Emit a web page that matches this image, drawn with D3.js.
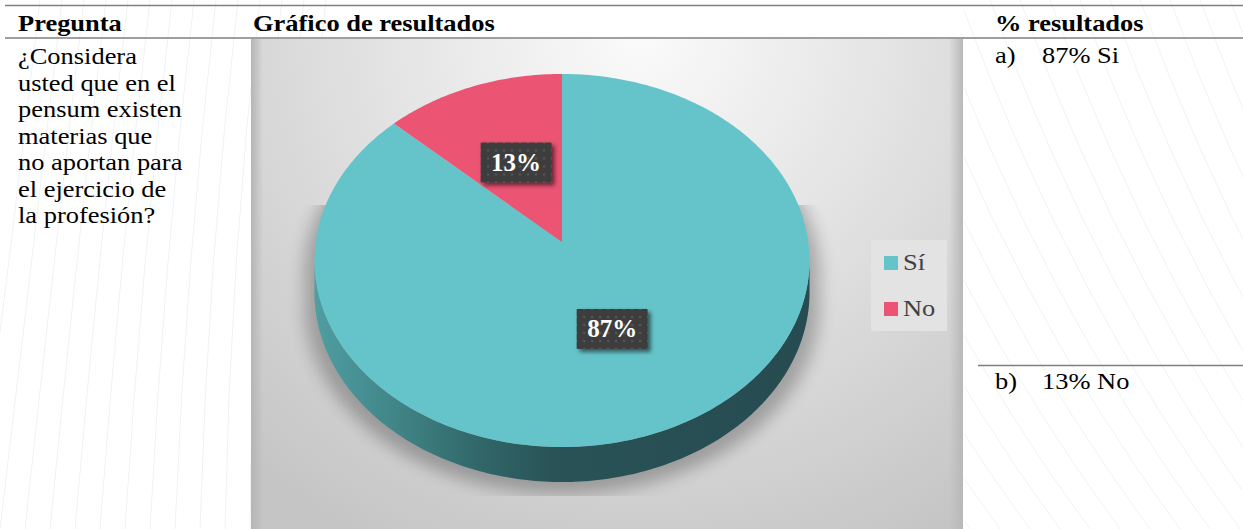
<!DOCTYPE html>
<html>
<head>
<meta charset="utf-8">
<script src="https://cdn.jsdelivr.net/npm/d3@7"></script>
<style>
  html, body { margin: 0; padding: 0; background: #fff; }
  svg { display: block; }
  text { font-family: "Liberation Serif", "Times New Roman", serif; }
</style>
</head>
<body>
<svg id="chart" width="1243" height="529"></svg>
<script>
// ---- data ----
const categories = ["Sí", "No"];
const values = [87, 13];
const sliceColors = ["#65c4c9", "#eb5473"];
const headers = ["Pregunta", "Gráfico de resultados", "% resultados"];
const questionLines = ["¿Considera", "usted que en el", "pensum existen", "materias que", "no aportan para", "el ejercicio de", "la profesión?"];
const resultLetters = ["a)", "b)"];
const resultTexts = ["87% Si", "13% No"];

// ---- setup ----
const svg = d3.select("#chart");
const W = 1243, H = 529;
const defs = svg.append("defs");
const SX = 1.15; // horizontal stretch of the document text

svg.append("rect").attr("width", W).attr("height", H).attr("fill", "#fff");

// faint watermark curves
const wm = svg.append("g").attr("fill", "none").attr("stroke", "#eef3f6").attr("stroke-width", 1);
d3.range(14).forEach(i => {
  const x0 = -20 + i * 22;
  wm.append("path").attr("d", `M${x0 + 60},0 Q${x0 + 30},260 ${x0 - 5 + i * 3},529`);
});
defs.append("clipPath").attr("id", "rightClip").append("rect").attr("x", 964).attr("y", 0).attr("width", 280).attr("height", H);
const wmR = svg.append("g").attr("clip-path", "url(#rightClip)").attr("fill", "none").attr("stroke", "#eef3f6").attr("stroke-width", 1);
d3.range(20).forEach(i => {
  const x0 = 660 + i * 30;
  wmR.append("path").attr("d", `M${x0},0 Q${x0 + 110},300 ${x0 + 280},529`);
});

// ---- chart panel ----
const panel = { x: 251, y: 39, w: 712, h: 490 };
const bg = defs.append("radialGradient").attr("id", "bgGrad").attr("gradientUnits", "userSpaceOnUse")
  .attr("cx", 640).attr("cy", 30).attr("r", 580);
bg.append("stop").attr("offset", 0).attr("stop-color", "#fbfbfb");
bg.append("stop").attr("offset", 0.45).attr("stop-color", "#e3e3e3");
bg.append("stop").attr("offset", 1).attr("stop-color", "#c5c5c5");
svg.append("rect").attr("x", panel.x).attr("y", panel.y).attr("width", panel.w).attr("height", panel.h).attr("fill", "url(#bgGrad)");
const lEdge = defs.append("linearGradient").attr("id", "lEdge");
lEdge.append("stop").attr("offset", 0).attr("stop-color", "#b5b5b5").attr("stop-opacity", 1);
lEdge.append("stop").attr("offset", 1).attr("stop-color", "#b5b5b5").attr("stop-opacity", 0);
svg.append("rect").attr("x", panel.x).attr("y", panel.y).attr("width", 12).attr("height", panel.h).attr("fill", "url(#lEdge)");
const rEdge = defs.append("linearGradient").attr("id", "rEdge");
rEdge.append("stop").attr("offset", 0).attr("stop-color", "#b8b8b8").attr("stop-opacity", 0);
rEdge.append("stop").attr("offset", 1).attr("stop-color", "#b8b8b8").attr("stop-opacity", 1);
svg.append("rect").attr("x", panel.x + panel.w - 14).attr("y", panel.y).attr("width", 14).attr("height", panel.h).attr("fill", "url(#rEdge)");

// ---- 3D pie projection ----
const cx = 562, cy = 242, RX = 246.3, RY = 184.7, K = 0.0992, DEPTH = 31.5;
function proj(theta, f) {
  const s = Math.sin(theta) * f, c = Math.cos(theta) * f;
  const w = 1 + K * c;
  return [cx + RX * s / w, cy - RY * c / w];
}
function projBottom(theta) {
  const p = proj(theta, 1);
  const w = 1 + K * Math.cos(theta);
  return [p[0], p[1] + DEPTH / w];
}
const line = d3.line();
const N = 180;
const thR = Math.acos(-K), thL = 2 * Math.PI - Math.acos(-K);
const topPts = d3.range(N + 1).map(i => thR + (thL - thR) * i / N);
const sidePts = topPts.map(t => proj(t, 1)).concat(topPts.slice().reverse().map(t => projBottom(t)));
const fullTop = d3.range(361).map(i => proj(i / 360 * 2 * Math.PI, 1));

// shadow
const shBlur = defs.append("filter").attr("id", "shBlur").attr("x", "-20%").attr("y", "-20%").attr("width", "140%").attr("height", "140%");
shBlur.append("feGaussianBlur").attr("stdDeviation", 8);
defs.append("clipPath").attr("id", "shClip").append("rect").attr("x", panel.x).attr("y", 205).attr("width", panel.w).attr("height", 291);
svg.append("g").attr("clip-path", "url(#shClip)")
  .append("g").attr("filter", "url(#shBlur)").attr("opacity", 0.26)
  .attr("transform", `translate(${cx},${cy + 12}) scale(1.04,1) translate(${-cx},${-cy})`)
  .call(g => {
    g.append("path").attr("d", line(fullTop) + "Z").attr("fill", "#000");
    g.append("path").attr("d", line(sidePts) + "Z").attr("fill", "#000");
  });

// side
const sideGrad = defs.append("linearGradient").attr("id", "sideGrad").attr("gradientUnits", "userSpaceOnUse")
  .attr("x1", 315).attr("x2", 810).attr("y1", 0).attr("y2", 0);
[[0, "#4f9ea2"], [0.18, "#3f8284"], [0.33, "#316769"], [0.48, "#295357"], [1, "#264b50"]]
  .forEach(([o, c]) => sideGrad.append("stop").attr("offset", o).attr("stop-color", c));
svg.append("path").attr("d", line(sidePts) + "Z").attr("fill", "url(#sideGrad)");

// slices
const color = d3.scaleOrdinal().domain(categories).range(sliceColors);
const pie = d3.pie().sort(null).startAngle(0).endAngle(2 * Math.PI);
const arcs = pie(values).map((a, i) => Object.assign(a, { cat: categories[i] }));
svg.append("g").selectAll("path").data(arcs).join("path")
  .attr("d", d => {
    const n = Math.max(4, Math.ceil((d.endAngle - d.startAngle) / (2 * Math.PI) * 360));
    const pts = [proj(0, 0)].concat(d3.range(n + 1).map(i => proj(d.startAngle + (d.endAngle - d.startAngle) * i / n, 1)));
    return line(pts) + "Z";
  })
  .attr("fill", d => color(d.cat));

// data labels
const pat = defs.append("pattern").attr("id", "dots").attr("patternUnits", "userSpaceOnUse").attr("width", 8).attr("height", 8);
pat.append("rect").attr("width", 8).attr("height", 8).attr("fill", "#3d3d3d");
pat.append("circle").attr("cx", 4).attr("cy", 4).attr("r", 1.3).attr("fill", "#555");
const ds = defs.append("filter").attr("id", "lblShadow").attr("x", "-30%").attr("y", "-30%").attr("width", "160%").attr("height", "160%");
ds.append("feDropShadow").attr("dx", 3).attr("dy", 3).attr("stdDeviation", 2).attr("flood-color", "#000").attr("flood-opacity", 0.55);
const total = d3.sum(values);
const pct = d3.format(".0%");
const lbl = svg.append("g").selectAll("g").data(arcs).join("g")
  .attr("transform", d => {
    const p = proj((d.startAngle + d.endAngle) / 2, 0.49);
    return `translate(${p[0]},${p[1]})`;
  });
lbl.append("rect").attr("x", -35.5).attr("y", -20).attr("width", 71).attr("height", 40)
  .attr("fill", "url(#dots)").attr("filter", "url(#lblShadow)");
lbl.append("text").attr("text-anchor", "middle").attr("y", 8.5)
  .attr("font-size", 25).attr("font-weight", "bold").attr("fill", "#fff")
  .text(d => pct(d.value / total));

// legend
const lg = svg.append("g");
lg.append("rect").attr("x", 871).attr("y", 240).attr("width", 76).attr("height", 91).attr("fill", "#e3e3e3");
const li = lg.selectAll("g").data(categories).join("g")
  .attr("transform", (d, i) => `translate(884,${256 + i * 46})`);
li.append("rect").attr("width", 14).attr("height", 14).attr("fill", d => color(d));
li.append("text").attr("transform", `translate(19,14) scale(${SX},1)`)
  .attr("font-size", 23).attr("fill", "#404040").text(d => d);

// ---- table ----
const tbl = svg.append("g");
tbl.append("line").attr("x1", 5).attr("x2", W).attr("y1", 5.5).attr("y2", 5.5).attr("stroke", "#7f7f7f").attr("stroke-width", 1.5);
tbl.append("line").attr("x1", 5).attr("x2", W).attr("y1", 38).attr("y2", 38).attr("stroke", "#7f7f7f").attr("stroke-width", 1.7);
tbl.append("line").attr("x1", 978).attr("x2", W).attr("y1", 365.5).attr("y2", 365.5).attr("stroke", "#7f7f7f").attr("stroke-width", 1.5);

const headerX = [18, 253, 995];
tbl.selectAll("text.h").data(headers).join("text").attr("class", "h")
  .attr("transform", (d, i) => `translate(${headerX[i]},30.5) scale(${SX},1)`)
  .attr("font-size", 23).attr("font-weight", "bold").attr("fill", "#000").text(d => d);

tbl.selectAll("text.q").data(questionLines).join("text").attr("class", "q")
  .attr("transform", (d, i) => `translate(18,${64 + i * 26.5}) scale(${SX},1)`)
  .attr("font-size", 23).attr("fill", "#000").text(d => d);

const resY = [63, 389];
tbl.selectAll("text.rl").data(resultLetters).join("text").attr("class", "rl")
  .attr("transform", (d, i) => `translate(995,${resY[i]}) scale(${SX},1)`)
  .attr("font-size", 23).attr("fill", "#000").text(d => d);
tbl.selectAll("text.rt").data(resultTexts).join("text").attr("class", "rt")
  .attr("transform", (d, i) => `translate(1042,${resY[i]}) scale(${SX},1)`)
  .attr("font-size", 23).attr("fill", "#000").text(d => d);
</script>
</body>
</html>
